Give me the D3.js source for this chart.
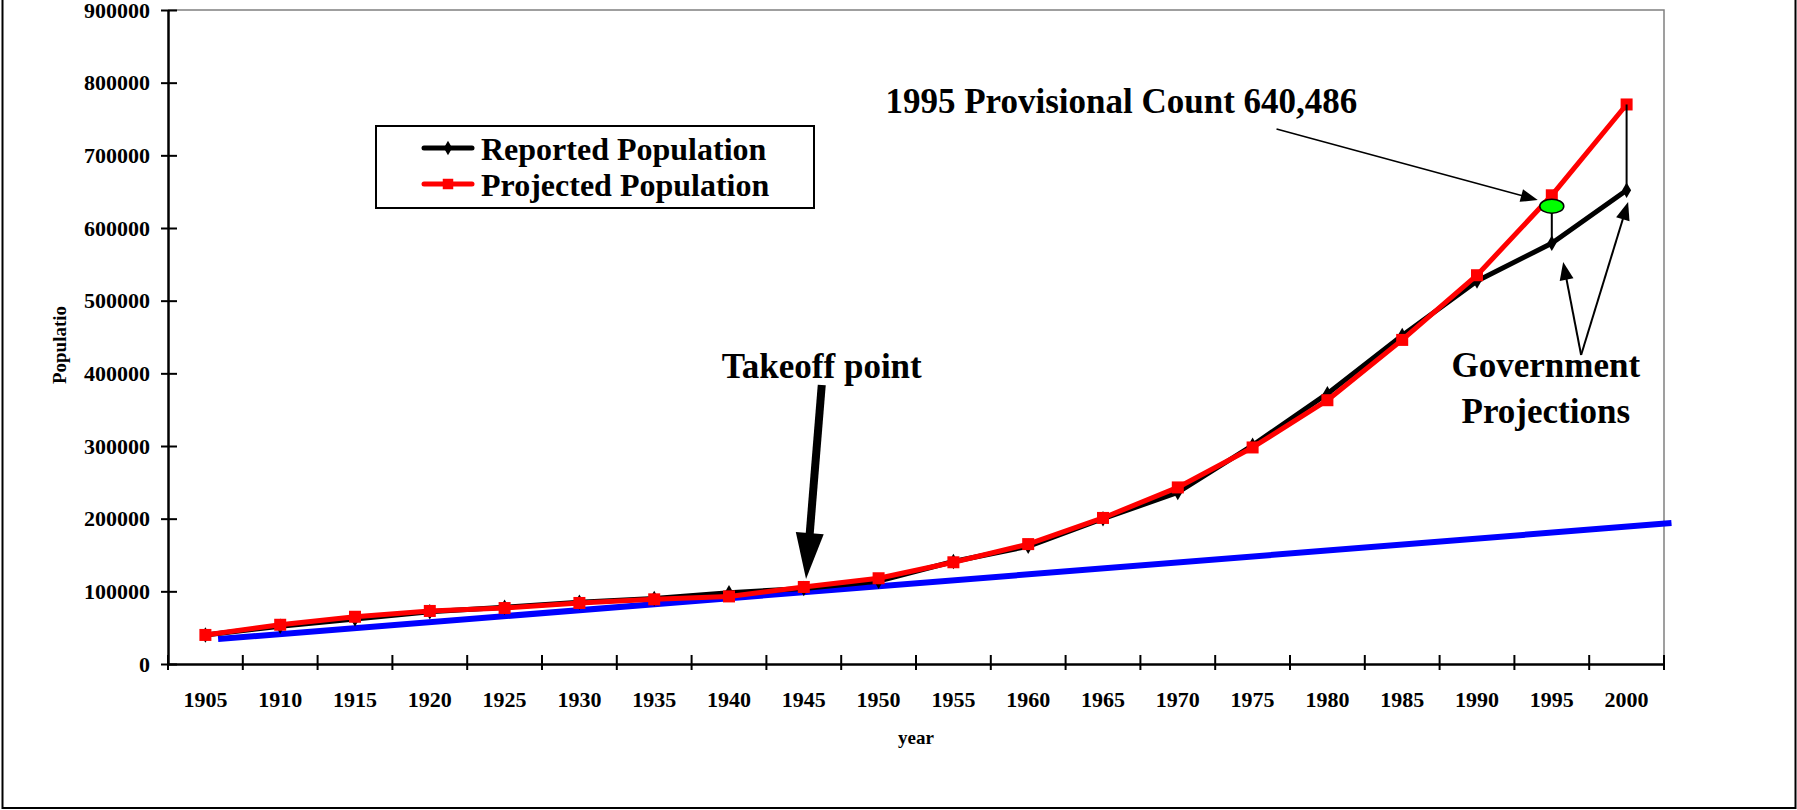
<!DOCTYPE html>
<html>
<head>
<meta charset="utf-8">
<script src="https://cdn.jsdelivr.net/npm/d3@7"></script>
<style>
  body { margin: 0; background: #fff; }
  text { font-family: "Liberation Serif", "Times New Roman", serif; font-weight: bold; }
</style>
</head>
<body>
<script>
/* Data */
var years = [1905, 1910, 1915, 1920, 1925, 1930, 1935, 1940, 1945, 1950,
             1955, 1960, 1965, 1970, 1975, 1980, 1985, 1990, 1995, 2000];
var reported = [40000, 52000, 62000, 72000, 78000, 85000, 90000, 98000, 104000, 114000,
                141000, 162000, 200000, 236000, 301000, 372000, 452000, 527000, 579000, 652000];
var projected = [40000, 54000, 65000, 73000, 77000, 84000, 89000, 93000, 106000, 118000,
                 140000, 165000, 201000, 243000, 298000, 363000, 446000, 535000, 645000, 770000];
var trendYears = [1905.85, 2003];
var trendValues = [34400, 194000];
var yTicks = [0, 100000, 200000, 300000, 400000, 500000, 600000, 700000, 800000, 900000];
var provisionalYear = 1995, provisionalValue = 630000;

/* Size */
var width = 1797, height = 810;
var svg = d3.select("body").append("svg")
    .attr("width", width)
    .attr("height", height);

/* outer frame */
svg.append("rect")
    .attr("x", 2.5).attr("y", -10)
    .attr("width", 1793).attr("height", 818)
    .attr("fill", "none").attr("stroke", "#000").attr("stroke-width", 2);

/* scales */
var x = d3.scaleBand().domain(years).range([168, 1664]).padding(0);
var bw = x.bandwidth();
var xYear = d3.scaleLinear()
    .domain([1905, 2000])
    .range([x(1905) + bw / 2, x(2000) + bw / 2]);
var y = d3.scaleLinear().domain([0, 900000]).range([664, 10]);

/* plot area border (top + right, grey) */
svg.append("path")
    .attr("d", "M" + x.range()[0] + "," + y(900000) + "H" + x.range()[1] + "V" + y(0))
    .attr("fill", "none").attr("stroke", "#808080").attr("stroke-width", 1.5);

/* y axis */
var yAxis = svg.append("g")
    .attr("transform", "translate(" + x.range()[0] + ",0)")
    .call(d3.axisLeft(y).tickValues(yTicks).tickSize(7).tickSizeOuter(0).tickPadding(11)
        .tickFormat(d3.format("d")));
yAxis.select(".domain").attr("stroke-width", 2.5);
yAxis.selectAll(".tick line").attr("x1", 9).attr("stroke-width", 2);
yAxis.selectAll(".tick text").attr("font-size", 22).attr("fill", "#000")
    .style("font-family", "'Liberation Serif', serif");

/* x axis */
var xAxis = svg.append("g")
    .attr("transform", "translate(0," + y(0) + ")")
    .call(d3.axisBottom(x).tickSize(0).tickSizeOuter(0).tickPadding(27));
xAxis.select(".domain").attr("stroke-width", 2.5);
xAxis.selectAll(".tick text").attr("font-size", 22).attr("fill", "#000")
    .style("font-family", "'Liberation Serif', serif");

/* tick marks between categories */
var bounds = years.map(function(d) { return x(d); }).concat([x.range()[1]]);
xAxis.selectAll(".bound")
    .data(bounds)
    .enter().append("line")
    .attr("class", "bound")
    .attr("x1", function(d) { return d; }).attr("x2", function(d) { return d; })
    .attr("y1", -9).attr("y2", 6)
    .attr("stroke", "#000").attr("stroke-width", 2);

/* axis titles */
svg.append("text")
    .attr("transform", "translate(66," + 345 + ") rotate(-90)")
    .attr("text-anchor", "middle")
    .attr("font-size", 19)
    .text("Populatio");
svg.append("text")
    .attr("x", (x.range()[0] + x.range()[1]) / 2)
    .attr("y", 744)
    .attr("text-anchor", "middle")
    .attr("font-size", 19)
    .text("year");

/* trend line (blue) */
svg.append("line")
    .attr("x1", xYear(trendYears[0])).attr("y1", y(trendValues[0]))
    .attr("x2", xYear(trendYears[1])).attr("y2", y(trendValues[1]))
    .attr("stroke", "#0000ff").attr("stroke-width", 6);

/* series */
var line = d3.line()
    .x(function(d) { return xYear(d[0]); })
    .y(function(d) { return y(d[1]); });

var repData = years.map(function(d, i) { return [d, reported[i]]; });
var proData = years.map(function(d, i) { return [d, projected[i]]; });

svg.append("path").datum(repData)
    .attr("d", line).attr("fill", "none")
    .attr("stroke", "#000").attr("stroke-width", 5).attr("stroke-linejoin", "round");
svg.append("g").selectAll("path")
    .data(repData).enter().append("path")
    .attr("transform", function(d) { return "translate(" + xYear(d[0]) + "," + y(d[1]) + ")"; })
    .attr("d", d3.symbol().type(d3.symbolDiamond).size(70))
    .attr("fill", "#000");

svg.append("path").datum(proData)
    .attr("d", line).attr("fill", "none")
    .attr("stroke", "#ff0000").attr("stroke-width", 5).attr("stroke-linejoin", "round");
svg.append("g").selectAll("rect")
    .data(proData).enter().append("rect")
    .attr("x", function(d) { return xYear(d[0]) - 6; })
    .attr("y", function(d) { return y(d[1]) - 6; })
    .attr("width", 12).attr("height", 12)
    .attr("fill", "#ff0000");

/* drop lines: provisional count -> reported 1995, projected 2000 -> reported 2000 */
svg.append("line")
    .attr("x1", xYear(1995)).attr("x2", xYear(1995))
    .attr("y1", y(provisionalValue)).attr("y2", y(reported[18]))
    .attr("stroke", "#000").attr("stroke-width", 2);
svg.append("line")
    .attr("x1", xYear(2000)).attr("x2", xYear(2000))
    .attr("y1", y(projected[19])).attr("y2", y(reported[19]))
    .attr("stroke", "#000").attr("stroke-width", 2);

/* provisional count marker */
svg.append("ellipse")
    .attr("cx", xYear(provisionalYear)).attr("cy", y(provisionalValue))
    .attr("rx", 12).attr("ry", 7)
    .attr("fill", "#00ff00").attr("stroke", "#000").attr("stroke-width", 1.5);

/* arrow helper: shaft + triangular head, ends given in year/value */
function arrow(y1v, v1, y2v, v2, shaftW, headLen, headW) {
    var x1 = xYear(y1v), yy1 = y(v1), x2 = xYear(y2v), yy2 = y(v2);
    var dx = x2 - x1, dy = yy2 - yy1, len = Math.sqrt(dx * dx + dy * dy);
    var ux = dx / len, uy = dy / len;
    var bx = x2 - ux * headLen, by = yy2 - uy * headLen;
    svg.append("line")
        .attr("x1", x1).attr("y1", yy1).attr("x2", bx + ux * 2).attr("y2", by + uy * 2)
        .attr("stroke", "#000").attr("stroke-width", shaftW);
    svg.append("polygon")
        .attr("points", [
            [x2, yy2],
            [bx - uy * headW / 2, by + ux * headW / 2],
            [bx + uy * headW / 2, by - ux * headW / 2]
        ].map(function(p) { return p.join(","); }).join(" "))
        .attr("fill", "#000");
}

/* annotations */
svg.append("text")
    .attr("x", xYear(1982)).attr("y", y(758000))
    .attr("text-anchor", "end").attr("font-size", 35)
    .text("1995 Provisional Count 640,486");
arrow(1976.6, 736200, 1994.06, 638500, 1.5, 17, 13);

svg.append("text")
    .attr("x", xYear(1946.2)).attr("y", y(393600))
    .attr("text-anchor", "middle").attr("font-size", 35)
    .text("Takeoff point");
arrow(1946.2, 383900, 1945.15, 117000, 8, 46, 28);

svg.append("text")
    .attr("x", xYear(1994.6)).attr("y", y(394900))
    .attr("text-anchor", "middle").attr("font-size", 35)
    .text("Government");
svg.append("text")
    .attr("x", xYear(1994.6)).attr("y", y(331600))
    .attr("text-anchor", "middle").attr("font-size", 35)
    .text("Projections");
arrow(1996.96, 425200, 1995.76, 553200, 2, 18, 14);
arrow(1996.96, 425200, 2000.1, 635800, 2, 18, 14);

/* legend */
var legend = svg.append("g");
legend.append("rect")
    .attr("x", 376).attr("y", 126).attr("width", 438).attr("height", 82)
    .attr("fill", "#fff").attr("stroke", "#000").attr("stroke-width", 2);
var legendItems = [
    { name: "Reported Population", color: "#000", sym: "diamond" },
    { name: "Projected Population", color: "#ff0000", sym: "square" }
];
var li = legend.selectAll(".item").data(legendItems).enter().append("g")
    .attr("class", "item")
    .attr("transform", function(d, i) { return "translate(0," + (148 + i * 36) + ")"; });
li.append("line")
    .attr("x1", 424).attr("x2", 472)
    .attr("stroke", function(d) { return d.color; })
    .attr("stroke-width", 5).attr("stroke-linecap", "round");
li.append("path")
    .attr("transform", "translate(448,0)")
    .attr("d", function(d) {
        return d.sym === "diamond"
            ? d3.symbol().type(d3.symbolDiamond).size(60)()
            : d3.symbol().type(d3.symbolSquare).size(110)();
    })
    .attr("fill", function(d) { return d.color; });
li.append("text")
    .attr("x", 481).attr("y", 12)
    .attr("font-size", 32)
    .text(function(d) { return d.name; });
</script>
</body>
</html>
